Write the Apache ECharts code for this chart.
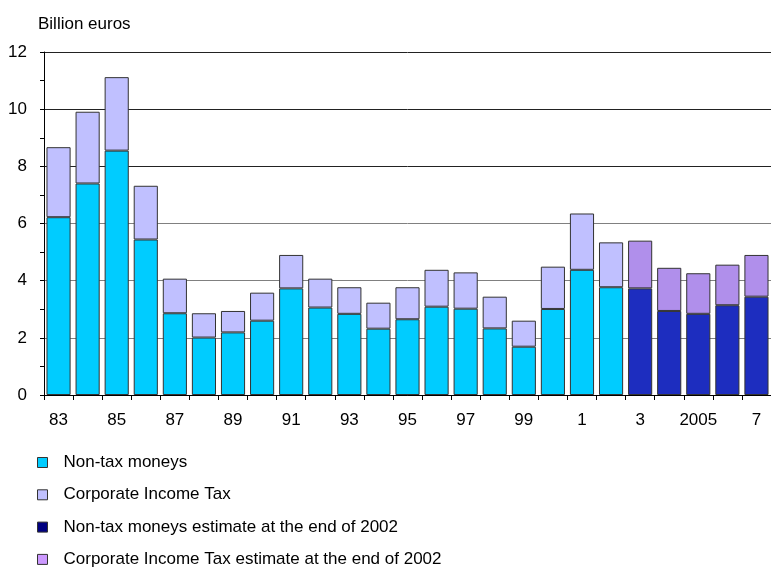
<!DOCTYPE html>
<html>
<head>
<meta charset="utf-8">
<script src="https://cdn.jsdelivr.net/npm/echarts@6/dist/echarts.min.js"></script>
<style>
  html, body { margin: 0; padding: 0; background: #fff; }
  #chart { width: 771px; height: 567px; }
</style>
</head>
<body>
<div id="chart"></div>
<script>
// Years 1983–2007; 2003 onwards are estimates made at the end of 2002
const years = ['1983','1984','1985','1986','1987','1988','1989','1990','1991','1992','1993','1994','1995',
               '1996','1997','1998','1999','2000','2001','2002','2003','2004','2005','2006','2007'];
const tickLabels = ['83','','85','','87','','89','','91','','93','','95',
                    '','97','','99','','1','','3','','2005','','7'];

// Billion euros
const nonTax = [6.22,7.40,8.55,5.44,2.86,2.01,2.19,2.60,3.73,3.06,2.84,2.32,2.65,
                3.09,3.02,2.33,1.69,3.01,4.38,3.77,null,null,null,null,null];
const corpTax = [2.45,2.51,2.57,1.88,1.21,0.85,0.75,0.98,1.17,1.01,0.93,0.91,1.12,
                 1.29,1.27,1.11,0.91,1.48,1.97,1.57,null,null,null,null,null];
const nonTaxEst = [null,null,null,null,null,null,null,null,null,null,null,null,null,
                   null,null,null,null,null,null,null,3.73,2.94,2.84,3.14,3.44];
const corpTaxEst = [null,null,null,null,null,null,null,null,null,null,null,null,null,
                    null,null,null,null,null,null,null,1.67,1.51,1.42,1.42,1.46];

const yTicks = [0, 2, 4, 6, 8, 10, 12];

const FONT = 'Liberation Sans, Arial, sans-serif';
const FS = 17;
const names = ['Non-tax moneys', 'Corporate Income Tax',
               'Non-tax moneys estimate at the end of 2002',
               'Corporate Income Tax estimate at the end of 2002'];
const fills = ['#00CCFF', '#C0C0FF', '#1D2DBF', '#B08FEB'];
const swatches = ['#00CCFF', '#C0C0FF', '#000080', '#CC99FF'];

function barSeries(name, data, color) {
  return {
    name: name,
    type: 'bar',
    stack: 'total',
    data: data,
    barCategoryGap: '17%',
    itemStyle: { color: color, borderColor: '#333', borderWidth: 1 },
    emphasis: { disabled: true }
  };
}

const chart = echarts.init(document.getElementById('chart'), null, { renderer: 'canvas' });
chart.setOption({
  animation: false,
  textStyle: { fontFamily: FONT },
  graphic: [{
    type: 'text', left: 38, top: 16,
    style: { text: 'Billion euros', font: FS + 'px ' + FONT, fill: '#000' }
  }],
  grid: { left: 44, right: 0, top: 52, bottom: 172, containLabel: false },
  legend: {
    orient: 'vertical', left: 37, top: 454, height: 140, padding: 0,
    itemWidth: 10, itemHeight: 10, itemGap: 15.3,
    icon: 'rect',
    selectedMode: false,
    textStyle: { fontSize: FS, lineHeight: 17, color: '#000', fontFamily: FONT, padding: [0, 0, 0, 11] },
    data: names.map((n, i) => ({
      name: n,
      itemStyle: { color: swatches[i], borderColor: '#333', borderWidth: 1 }
    }))
  },
  xAxis: {
    type: 'category',
    data: years,
    axisLine: { lineStyle: { color: '#000', width: 1 } },
    axisTick: { show: true, interval: 0, length: 5, lineStyle: { color: '#000' } },
    axisLabel: {
      interval: 0, margin: 17, fontSize: FS, color: '#000', fontFamily: FONT,
      formatter: (v, i) => tickLabels[i]
    },
    splitLine: { show: false }
  },
  yAxis: {
    type: 'value', min: 0, max: 12, interval: 2,
    axisLine: { show: true, lineStyle: { color: '#000', width: 1 } },
    axisTick: { show: true, length: 4, lineStyle: { color: '#000' } },
    minorTick: { show: true, splitNumber: 2, length: 4, lineStyle: { color: '#000' } },
    axisLabel: {
      margin: 17, fontSize: FS, color: '#000', fontFamily: FONT,
      formatter: v => yTicks.includes(v) ? String(v) : ''
    },
    splitLine: {
      show: true,
      lineStyle: { color: ['#000', '#808080', '#808080', '#808080', '#222', '#222', '#222'], width: 1 }
    }
  },
  series: [
    barSeries(names[0], nonTax, fills[0]),
    barSeries(names[1], corpTax, fills[1]),
    barSeries(names[2], nonTaxEst, fills[2]),
    barSeries(names[3], corpTaxEst, fills[3])
  ]
});
</script>
</body>
</html>
